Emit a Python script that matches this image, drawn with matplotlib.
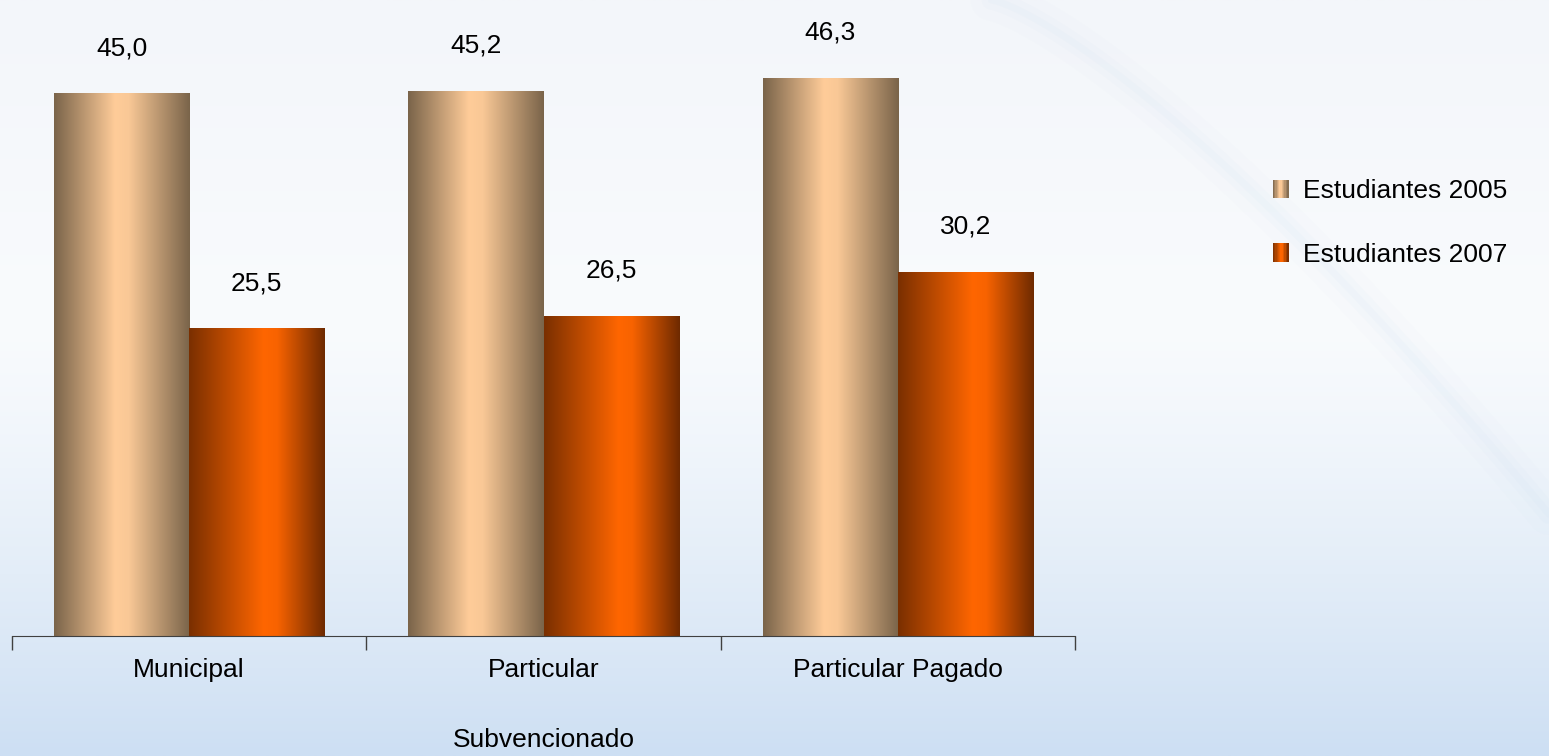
import numpy as np
import matplotlib
matplotlib.use('Agg')
import matplotlib.pyplot as plt
from matplotlib.colors import to_rgb, LinearSegmentedColormap
from matplotlib.legend_handler import HandlerBase
from matplotlib.patches import Rectangle

# data
categories = ['Municipal', 'Particular\nSubvencionado', 'Particular Pagado']
series_names = ['Estudiantes 2005', 'Estudiantes 2007']
values_2005 = [45.0, 45.2, 46.3]
values_2007 = [25.5, 26.5, 30.2]
value_labels_2005 = ['45,0', '45,2', '46,3']
value_labels_2007 = ['25,5', '26,5', '30,2']

plt.rcParams['font.family'] = ['Liberation Sans', 'DejaVu Sans']
FS = 19

# cylinder-like horizontal shading for each series (edge, highlight, edge)
shade_2005 = [(0.0, '#7a644a'), (0.45, '#ffcc99'), (0.55, '#f9c896'), (1.0, '#7a644a')]
shade_2007 = [(0.0, '#7a2f00'), (0.55, '#ff6600'), (0.65, '#f86300'), (1.0, '#6e2a00')]
cmap_2005 = LinearSegmentedColormap.from_list('c05', shade_2005)
cmap_2007 = LinearSegmentedColormap.from_list('c07', shade_2007)

fig = plt.figure(figsize=(15.49, 7.56), dpi=100)

# background: soft vertical gradient with a faint swoosh
bg = fig.add_axes([0, 0, 1, 1], zorder=-10)
top = np.array(to_rgb('#f3f6fa'))
mid = np.array(to_rgb('#f9fbfd'))
bot = np.array(to_rgb('#cddff3'))
t = np.linspace(0, 1, 400)[:, None]
col = np.where(t < 0.42, top + (mid - top) * (t / 0.42),
               mid + (bot - mid) * ((t - 0.42) / 0.58) ** 1.3)
bg.imshow(col[:, None, :].repeat(2, axis=1), extent=[0, 1, 0, 1], aspect='auto')
sx = np.linspace(0.64, 1.0, 100)
sy = 1.0 - ((sx - 0.64) / 0.36) ** 1.3 * 0.68
for lw, a in [(30, 0.03), (14, 0.05), (5, 0.06)]:
    bg.plot(sx, sy, color='#b9d3ec', lw=lw, alpha=a, solid_capstyle='round')
bg.set_xlim(0, 1)
bg.set_ylim(0, 1)
bg.axis('off')

ax = fig.add_axes([12 / 1549, 120 / 756, 1063 / 1549, 636 / 756])
ax.patch.set_alpha(0)

x = np.arange(len(categories))
w = 0.381
bars_05 = ax.bar(x - w / 2, values_2005, w, color='none', label=series_names[0])
bars_07 = ax.bar(x + w / 2, values_2007, w, color='none', label=series_names[1])

grad = np.linspace(0, 1, 256)[None, :]
for bars, cmap in [(bars_05, cmap_2005), (bars_07, cmap_2007)]:
    for b in bars:
        x0, h, bw = b.get_x(), b.get_height(), b.get_width()
        ax.imshow(grad, cmap=cmap, extent=[x0, x0 + bw, 0, h], aspect='auto', zorder=2)

for bars, labels in [(bars_05, value_labels_2005), (bars_07, value_labels_2007)]:
    for b, lab in zip(bars, labels):
        ax.annotate(lab, (b.get_x() + b.get_width() / 2, b.get_height()),
                    xytext=(0, 33), textcoords='offset points',
                    ha='center', va='center', fontsize=FS, color='black',
                    annotation_clip=False)

ax.set_xlim(-0.5, 2.5)
ax.set_ylim(0, 52.8)
for s in ['top', 'right', 'left']:
    ax.spines[s].set_visible(False)
ax.spines['bottom'].set_color('#404040')
ax.spines['bottom'].set_zorder(3)
ax.set_yticks([])
ax.set_xticks(x)
ax.set_xticklabels(categories, fontsize=FS, linespacing=3.45, va='top')
ax.tick_params(axis='x', which='major', length=0, pad=15.5)
ax.set_xticks([-0.5, 0.5, 1.5, 2.5], minor=True)
ax.tick_params(axis='x', which='minor', length=10, color='#404040', width=1)


class GradientHandler(HandlerBase):
    def __init__(self, cmap):
        super().__init__()
        self.cmap = cmap

    def create_artists(self, legend, orig_handle, xdescent, ydescent,
                       width, height, fontsize, trans):
        n = 12
        out = []
        for i in range(n):
            r = Rectangle((-xdescent + width * i / n, -ydescent), width / n + 0.3, height,
                          facecolor=self.cmap((i + 0.5) / n), edgecolor='none',
                          transform=trans)
            out.append(r)
        return out


fig.legend(handles=[bars_05, bars_07], labels=series_names,
           handler_map={bars_05: GradientHandler(cmap_2005),
                        bars_07: GradientHandler(cmap_2007)},
           loc='center left', bbox_to_anchor=(1262 / 1549, 1 - 223 / 756),
           frameon=False, fontsize=FS, handlelength=0.6, handleheight=0.7,
           handletextpad=0.55, labelspacing=1.5, borderaxespad=0)

fig.savefig('out.png', dpi=100)
